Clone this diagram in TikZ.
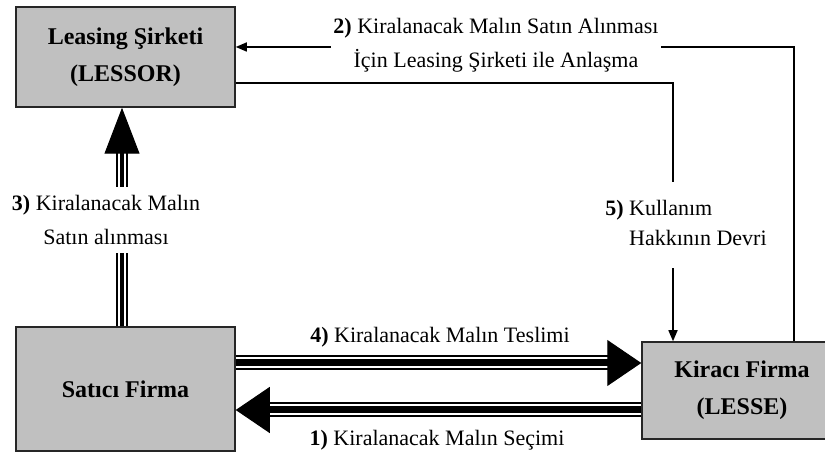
\documentclass[tikz,border=0pt]{standalone}
\usepackage{fontspec}
\setmainfont{Liberation Serif}
\usetikzlibrary{arrows.meta}
\definecolor{boxgray}{HTML}{C0C0C0}

\begin{document}
\begin{tikzpicture}[x=0.5pt, y=-0.5pt,
    firm_box/.style={rectangle, draw=black!85, line width=0.75pt, fill=boxgray, align=center, inner sep=0pt, font=\bfseries\fontsize{12}{18.5}\selectfont},
    flow_label/.style={align=center, inner sep=1pt, font=\fontsize{11}{17}\selectfont},
    triple/.style={line width=#1, postaction={draw=white, line width=#1-2pt}, postaction={draw=black, line width=#1-4pt}},
    vhead/.style={line width=0.5pt, -{Triangle[length=23pt, width=17.5pt]}},
    hhead/.style={line width=0.5pt, -{Triangle[length=17pt, width=23pt]}},
    thin_arrow/.style={line width=0.75pt, -{Triangle[length=5.5pt, width=4.5pt]}}]

    \useasboundingbox (0, 0) rectangle (825, 458);

    \node[firm_box, minimum width=109.5pt, minimum height=50pt] (lessor) at (125.5, 57) {Leasing Şirketi\\(LESSOR)};
    \node[firm_box, minimum width=109.5pt, minimum height=62pt] (satici) at (125.5, 389) {Satıcı Firma};
    \node[firm_box, minimum width=100pt, minimum height=48.5pt] (lessee) at (742, 390.5) {Kiracı Firma\\(LESSE)};

    % 3) satici -> lessor
    \draw[triple=6pt, shorten >=22pt] ([xshift=-1.75pt]satici.north) -- ([xshift=-1.75pt]lessor.south);
    \draw[vhead] ([xshift=-1.75pt]satici.north) -- ([xshift=-1.75pt]lessor.south);
    % 4) satici -> lessee, 1) lessee -> satici
    \draw[triple=7.5pt, shorten >=16pt] ([yshift=13pt]satici.east) -- ([yshift=13pt]satici.east -| lessee.west);
    \draw[hhead] ([yshift=13pt]satici.east) -- ([yshift=13pt]satici.east -| lessee.west);
    \draw[triple=7.5pt, shorten >=16pt] ([yshift=-10.5pt]satici.east -| lessee.west) -- ([yshift=-10.5pt]satici.east);
    \draw[hhead] ([yshift=-10.5pt]satici.east -| lessee.west) -- ([yshift=-10.5pt]satici.east);
    % 2) and 5)
    \draw[thin_arrow] ([xshift=26pt]lessee.north) |- ([yshift=5pt]lessor.east);
    \draw[thin_arrow] ([yshift=-13pt]lessor.east) -| ([xshift=-34.5pt]lessee.north);

    \node[flow_label, fill=white] (step2) at (496, 45) {\textbf{2)} Kiralanacak Malın Satın Alınması\\İçin Leasing Şirketi ile Anlaşma};
    \node[flow_label, fill=white, inner ysep=4pt] (step3) at (106, 220) {\textbf{3)} Kiralanacak Malın\\Satın alınması};
    \node[flow_label, fill=white, align=left, inner ysep=9pt, font=\fontsize{11}{15}\selectfont] (step5) at (686, 225) {\textbf{5)} Kullanım\\\phantom{\textbf{5)} }Hakkının Devri};
    \node[flow_label, anchor=base] (step4) at (440, 343) {\textbf{4)} Kiralanacak Malın Teslimi};
    \node[flow_label, anchor=base] (step1) at (437, 446) {\textbf{1)} Kiralanacak Malın Seçimi};
\end{tikzpicture}
\end{document}
